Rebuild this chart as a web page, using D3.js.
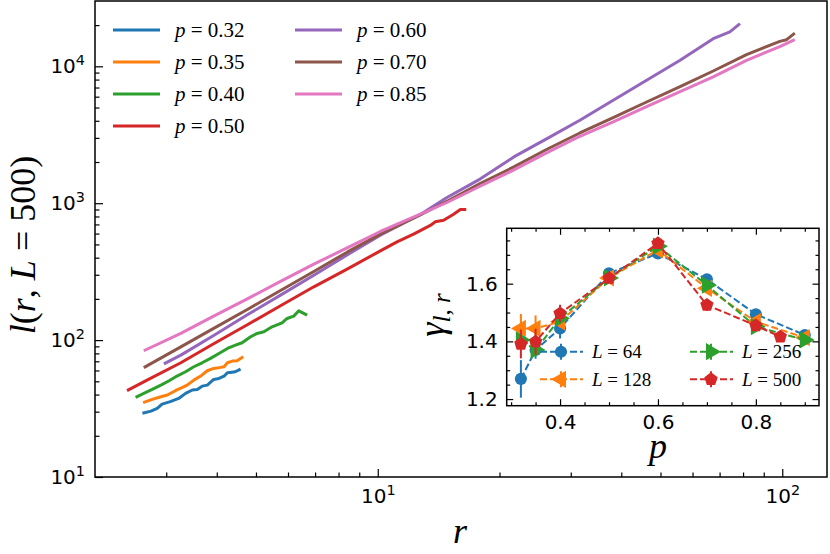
<!DOCTYPE html>
<html>
<head>
<meta charset="utf-8">
<script src="https://cdn.jsdelivr.net/npm/d3@7"></script>
<style>
  body { margin: 0; background: #fff; }
  svg { display: block; }
</style>
</head>
<body>
<svg id="chart" width="830" height="554"></svg>
<script>
// main panel: l(r, L=500) for several p
const rP032 = [2.62, 2.75, 2.85, 2.93, 3.07, 3.22, 3.35, 3.48, 3.58, 3.68, 3.79, 3.93, 4.05, 4.17, 4.25, 4.41, 4.49, 4.58];
const lP032 = [29.2, 30.3, 31.7, 34.1, 35.5, 37.5, 40.8, 43.2, 43.6, 46.1, 46.9, 51.6, 52.5, 54.6, 57.7, 58.4, 59.7, 61.4];

const rP035 = [2.63, 2.77, 2.91, 3.02, 3.16, 3.29, 3.38, 3.51, 3.65, 3.79, 3.93, 4.09, 4.17, 4.25, 4.37, 4.49, 4.65];
const lP035 = [34.9, 36.9, 38.6, 39.7, 42.7, 45.1, 46.9, 51.0, 54.6, 59.7, 62.1, 63.2, 63.9, 68.3, 70.3, 70.7, 75.6];

const rP040 = [2.52, 2.64, 2.77, 2.91, 3.05, 3.19, 3.35, 3.51, 3.68, 3.86, 4.05, 4.25, 4.45, 4.62, 4.85, 5.03, 5.23, 5.48, 5.80, 5.97, 6.20, 6.38, 6.69];
const lP040 = [38.2, 40.8, 43.6, 46.9, 50.5, 54.6, 58.7, 63.9, 68.3, 73.5, 79.9, 86.9, 91.9, 95.6, 105.8, 111.9, 115.0, 125.1, 133.8, 143.9, 149.7, 163.7, 152.2];

const rP050 = [2.40, 2.69, 3.26, 3.93, 4.76, 5.75, 6.95, 8.40, 10.15, 11.16, 12.26, 13.49, 13.88, 14.55, 15.40, 16.00, 16.55];
const lP050 = [42.7, 51.0, 68.3, 94.0, 129.4, 178.1, 245.1, 329.7, 448.7, 522, 594, 688, 731, 751, 831, 899, 899];

const rP060 = [2.96, 3.26, 3.93, 4.76, 5.75, 6.95, 8.40, 10.15, 12.74, 14.83, 17.9, 21.7, 26.2, 31.6, 38.2, 46.2, 55.9, 67.5, 74.2, 78.6];
const lP060 = [67.0, 77.7, 108.2, 153, 213, 298, 419, 584, 827, 1100, 1500, 2178, 2965, 4036, 5649, 7907, 11066, 15922, 17830, 20500];

const rP070 = [2.64, 3.26, 3.93, 4.76, 5.75, 6.95, 8.40, 10.15, 12.74, 14.83, 17.9, 21.7, 26.2, 31.6, 38.2, 46.2, 55.9, 67.5, 81.6, 98.6, 102.5, 107.4];
const lP070 = [63.0, 89.3, 121.7, 167.5, 230.6, 317.3, 438.8, 593.9, 821.4, 1034, 1393, 1841, 2478, 3259, 4222, 5488, 7109, 9242, 12173, 15221, 15650, 17500];

const rP085 = [2.64, 3.26, 3.93, 4.76, 5.75, 6.95, 8.40, 10.15, 12.74, 14.83, 17.9, 21.7, 26.2, 31.6, 38.2, 46.2, 55.9, 67.5, 81.6, 98.6, 107.4];
const lP085 = [83.6, 112, 149.6, 200.2, 268.2, 358.6, 471.7, 621.5, 831, 1012, 1330, 1750, 2344, 3083, 3922, 5083, 6537, 8360, 11066, 13930, 15664];

const pLabels = ['0.32', '0.35', '0.40', '0.50', '0.60', '0.70', '0.85'];
const lineColors = ['#1f77b4', '#ff7f0e', '#2ca02c', '#d62728', '#9467bd', '#8c564b', '#e377c2'];

// inset: gamma_{l,r} vs p
const pL64 = [0.32, 0.35, 0.40, 0.50, 0.60, 0.70, 0.80, 0.90];
const gL64 = [1.27, 1.37, 1.445, 1.636, 1.705, 1.615, 1.494, 1.422];
const eL64 = [0.065, 0.03, 0.035, 0.01, 0.01, 0.01, 0.01, 0.01];

const pL128 = [0.32, 0.35, 0.40, 0.50, 0.60, 0.70, 0.80, 0.90];
const gL128 = [1.445, 1.445, 1.468, 1.62, 1.717, 1.584, 1.468, 1.413];
const eL128 = [0.05, 0.045, 0.02, 0.01, 0.01, 0.012, 0.01, 0.01];

const pL256 = [0.32, 0.35, 0.40, 0.50, 0.60, 0.70, 0.80, 0.90];
const gL256 = [1.405, 1.37, 1.48, 1.62, 1.73, 1.595, 1.451, 1.405];
const eL256 = [0.02, 0.02, 0.02, 0.01, 0.01, 0.01, 0.012, 0.01];

const pL500 = [0.32, 0.35, 0.40, 0.50, 0.60, 0.70, 0.80, 0.85];
const gL500 = [1.391, 1.399, 1.497, 1.619, 1.74, 1.526, 1.455, 1.416];
const eL500 = [0.05, 0.045, 0.03, 0.01, 0.015, 0.02, 0.01, 0.01];

const sizeLabels = ['64', '128', '256', '500'];
const sizeColors = ['#1f77b4', '#ff7f0e', '#2ca02c', '#d62728'];
const sizeMarkers = ['circle', 'left', 'right', 'pentagon'];

const mainXMajor = [10, 100];
const mainXMinor = [3, 4, 5, 6, 7, 8, 9, 20, 30, 40, 50, 60, 70, 80, 90];
const mainYMajor = [10, 100, 1000, 10000];
const mainYMinor = [20, 30, 40, 50, 60, 70, 80, 90, 200, 300, 400, 500, 600, 700, 800, 900,
  2000, 3000, 4000, 5000, 6000, 7000, 8000, 9000, 20000];
const insetXMajor = [0.4, 0.6, 0.8];
const insetXMinor = [0.3, 0.35, 0.45, 0.5, 0.55, 0.65, 0.7, 0.75, 0.85, 0.9];
const insetYMajor = [1.2, 1.4, 1.6];
const insetYMinor = [1.25, 1.3, 1.35, 1.45, 1.5, 1.55, 1.65, 1.7, 1.75];

const svg = d3.select('#chart');
const SANS = 'DejaVu Sans';
const SERIF = 'Liberation Serif';

const main = { left: 95, top: 1, right: 827, bottom: 477 };
const x = d3.scaleLog().domain([2, 129]).range([main.left, main.right]);
const y = d3.scaleLog().domain([10, 30000]).range([main.bottom, main.top]);

const mainSeries = [
  [rP032, lP032], [rP035, lP035], [rP040, lP040], [rP050, lP050],
  [rP060, lP060], [rP070, lP070], [rP085, lP085]
].map(([rs, ls], i) => ({ color: lineColors[i], label: pLabels[i], pts: rs.map((r, j) => [r, ls[j]]) }));

const line = d3.line().x(d => x(d[0])).y(d => y(d[1]));

svg.append('g').selectAll('path').data(mainSeries).join('path')
  .attr('d', d => line(d.pts))
  .attr('fill', 'none')
  .attr('stroke', d => d.color)
  .attr('stroke-width', 3)
  .attr('stroke-linejoin', 'round');

function supLabels(g) {
  g.selectAll('.tick text').text(null).each(function (d) {
    const t = d3.select(this);
    t.append('tspan').text('10');
    t.append('tspan').attr('dy', '-0.55em').attr('font-size', '72%').text(Math.round(Math.log10(d)));
  });
}

function styleAxis(g, size) {
  g.attr('font-family', SANS).attr('font-size', size);
  g.select('.domain').remove();
  g.selectAll('.tick line').attr('stroke', '#000').attr('stroke-width', 1.2);
  g.selectAll('.tick text').attr('fill', '#000');
}

// main axes ticks (inward)
svg.append('g').attr('transform', `translate(0,${main.bottom})`)
  .call(d3.axisBottom(x).tickValues(mainXMinor).tickSizeInner(-4.5).tickSizeOuter(0).tickFormat(''))
  .call(g => styleAxis(g, 20));
svg.append('g').attr('transform', `translate(0,${main.bottom})`)
  .call(d3.axisBottom(x).tickValues(mainXMajor).tickSizeInner(-8).tickSizeOuter(0).tickPadding(12))
  .call(g => styleAxis(g, 20))
  .call(supLabels);
svg.append('g').attr('transform', `translate(${main.left},0)`)
  .call(d3.axisLeft(y).tickValues(mainYMinor).tickSizeInner(-4.5).tickSizeOuter(0).tickFormat(''))
  .call(g => styleAxis(g, 20));
svg.append('g').attr('transform', `translate(${main.left},0)`)
  .call(d3.axisLeft(y).tickValues(mainYMajor).tickSizeInner(-8).tickSizeOuter(0).tickPadding(10))
  .call(g => styleAxis(g, 20))
  .call(supLabels);

svg.append('rect')
  .attr('x', main.left).attr('y', main.top)
  .attr('width', main.right - main.left).attr('height', main.bottom - main.top)
  .attr('fill', 'none').attr('stroke', '#000').attr('stroke-width', 1.5);

// main axis labels
svg.append('text')
  .attr('x', 460).attr('y', 543)
  .attr('text-anchor', 'middle')
  .attr('font-family', SERIF).attr('font-size', 36).attr('font-style', 'italic')
  .text('r');

const yl = svg.append('text')
  .attr('transform', 'translate(35,245) rotate(-90)')
  .attr('text-anchor', 'middle')
  .attr('font-family', SERIF).attr('font-size', 36);
yl.append('tspan').attr('font-style', 'italic').text('l');
yl.append('tspan').text('(');
yl.append('tspan').attr('font-style', 'italic').text('r');
yl.append('tspan').text(', ');
yl.append('tspan').attr('font-style', 'italic').text('L');
yl.append('tspan').text(' = 500)');

// main legend
const legendPos = [[113, 30], [113, 62], [113, 94], [113, 126], [295, 30], [295, 62], [295, 94]];
const leg = svg.append('g').selectAll('g').data(mainSeries).join('g')
  .attr('transform', (d, i) => `translate(${legendPos[i][0]},${legendPos[i][1]})`);
leg.append('line').attr('x1', 0).attr('x2', 47).attr('y1', 0).attr('y2', 0)
  .attr('stroke', d => d.color).attr('stroke-width', 3);
const legText = leg.append('text').attr('x', 62).attr('y', 7)
  .attr('font-family', SERIF).attr('font-size', 21);
legText.append('tspan').attr('font-style', 'italic').text('p');
legText.append('tspan').text(d => ' = ' + d.label);

// inset
const inset = { left: 506.7, top: 228.3, right: 819, bottom: 405.7 };
const ix = d3.scaleLinear().domain([0.291, 0.929]).range([inset.left, inset.right]);
const iy = d3.scaleLinear().domain([1.177, 1.792]).range([inset.bottom, inset.top]);

svg.append('rect')
  .attr('x', inset.left).attr('y', inset.top)
  .attr('width', inset.right - inset.left).attr('height', inset.bottom - inset.top)
  .attr('fill', '#fff');

const insetSeries = [
  [pL64, gL64, eL64], [pL128, gL128, eL128], [pL256, gL256, eL256], [pL500, gL500, eL500]
].map(([ps, gs, es], i) => ({
  color: sizeColors[i], label: sizeLabels[i], marker: sizeMarkers[i],
  pts: ps.map((p, j) => ({ p, g: gs[j], e: es[j] }))
}));

function pentagon(r) {
  const pts = d3.range(5).map(k => {
    const a = -Math.PI / 2 + k * 2 * Math.PI / 5;
    return [r * Math.cos(a), r * Math.sin(a)];
  });
  return 'M' + pts.map(p => p.join(',')).join('L') + 'Z';
}

function markerPath(kind) {
  if (kind === 'circle') return d3.symbol(d3.symbolCircle, 115)();
  if (kind === 'pentagon') return pentagon(7);
  return d3.symbol(d3.symbolTriangle, 130)();
}
function markerRot(kind) {
  if (kind === 'left') return ' rotate(-90)';
  if (kind === 'right') return ' rotate(90)';
  return '';
}

const iline = d3.line().x(d => ix(d.p)).y(d => iy(d.g));
const sg = svg.append('g').selectAll('g').data(insetSeries).join('g');
sg.append('path')
  .attr('d', d => iline(d.pts))
  .attr('fill', 'none').attr('stroke', d => d.color)
  .attr('stroke-width', 2).attr('stroke-dasharray', '7,3');
sg.each(function (s) {
  const g = d3.select(this);
  g.selectAll('line.err').data(s.pts).join('line').attr('class', 'err')
    .attr('x1', d => ix(d.p)).attr('x2', d => ix(d.p))
    .attr('y1', d => iy(d.g - d.e)).attr('y2', d => iy(d.g + d.e))
    .attr('stroke', s.color).attr('stroke-width', 2);
  g.selectAll('path.mk').data(s.pts).join('path').attr('class', 'mk')
    .attr('d', markerPath(s.marker))
    .attr('transform', d => `translate(${ix(d.p)},${iy(d.g)})${markerRot(s.marker)}`)
    .attr('fill', s.color);
});

// inset ticks on all four sides
function insetAxis(axisFn, scale, vals, size, pos, labels) {
  const a = axisFn(scale).tickValues(vals).tickSizeInner(-size).tickSizeOuter(0).tickPadding(9);
  if (!labels) a.tickFormat('');
  else a.tickFormat(d3.format('.1f'));
  svg.append('g').attr('transform', pos).call(a).call(g => styleAxis(g, 20));
}
insetAxis(d3.axisBottom, ix, insetXMinor, 3.5, `translate(0,${inset.bottom})`, false);
insetAxis(d3.axisBottom, ix, insetXMajor, 6.5, `translate(0,${inset.bottom})`, true);
insetAxis(d3.axisTop, ix, insetXMinor, 3.5, `translate(0,${inset.top})`, false);
insetAxis(d3.axisTop, ix, insetXMajor, 6.5, `translate(0,${inset.top})`, false);
insetAxis(d3.axisLeft, iy, insetYMinor, 3.5, `translate(${inset.left},0)`, false);
insetAxis(d3.axisLeft, iy, insetYMajor, 6.5, `translate(${inset.left},0)`, true);
insetAxis(d3.axisRight, iy, insetYMinor, 3.5, `translate(${inset.right},0)`, false);
insetAxis(d3.axisRight, iy, insetYMajor, 6.5, `translate(${inset.right},0)`, false);

svg.append('rect')
  .attr('x', inset.left).attr('y', inset.top)
  .attr('width', inset.right - inset.left).attr('height', inset.bottom - inset.top)
  .attr('fill', 'none').attr('stroke', '#000').attr('stroke-width', 1.5);

// inset legend
const insetLegPos = [[540, 351.7], [540, 379.3], [690, 351.7], [690, 379.3]];
const il = svg.append('g').selectAll('g').data(insetSeries).join('g')
  .attr('transform', (d, i) => `translate(${insetLegPos[i][0]},${insetLegPos[i][1]})`);
il.append('line').attr('x1', 0).attr('x2', 43).attr('y1', 0).attr('y2', 0)
  .attr('stroke', d => d.color).attr('stroke-width', 2).attr('stroke-dasharray', '7,3');
il.append('line').attr('x1', 21).attr('x2', 21).attr('y1', -8).attr('y2', 8)
  .attr('stroke', d => d.color).attr('stroke-width', 2);
il.append('path')
  .attr('d', d => markerPath(d.marker))
  .attr('transform', d => `translate(21,0)${markerRot(d.marker)}`)
  .attr('fill', d => d.color);
const ilText = il.append('text').attr('x', 52).attr('y', 6.5)
  .attr('font-family', SERIF).attr('font-size', 19);
ilText.append('tspan').attr('font-style', 'italic').text('L');
ilText.append('tspan').text(d => ' = ' + d.label);

// inset axis labels
svg.append('text')
  .attr('x', 658).attr('y', 458)
  .attr('text-anchor', 'middle')
  .attr('font-family', SERIF).attr('font-size', 36).attr('font-style', 'italic')
  .text('p');

const gl = svg.append('text')
  .attr('transform', 'translate(444,315) rotate(-90)')
  .attr('text-anchor', 'middle')
  .attr('font-family', SERIF).attr('font-size', 36).attr('font-style', 'italic');
gl.append('tspan').text('γ');
gl.append('tspan').attr('dy', '0.25em').attr('font-size', '70%').text('l');
gl.append('tspan').attr('font-size', '70%').attr('font-style', 'normal').text(', ');
gl.append('tspan').attr('font-size', '70%').text('r');
</script>
</body>
</html>
